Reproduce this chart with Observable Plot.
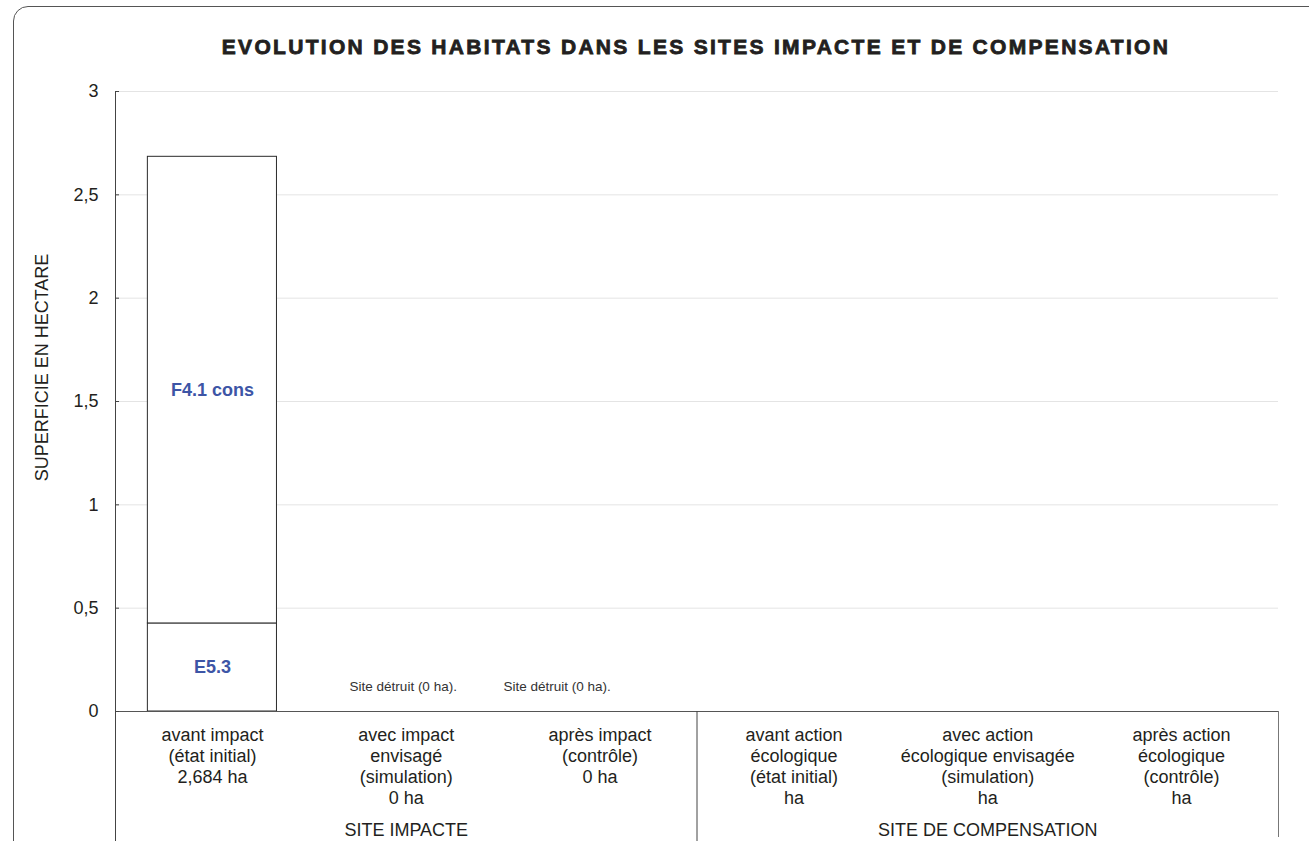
<!DOCTYPE html>
<html><head><meta charset="utf-8">
<script src="https://cdn.jsdelivr.net/npm/d3@7"></script>
<script src="https://cdn.jsdelivr.net/npm/@observablehq/plot@0.6"></script>
<style>
  body { margin: 0; background: #fff; }
  #wrap { position: relative; width: 1309px; height: 841px; overflow: hidden; background: #fff; }
  #frame { position: absolute; left: 13px; top: 6px; width: 1400px; height: 900px; border: 1.2px solid #555; border-radius: 15px; }
  #title { position: absolute; left: 0; top: 35px; width: 1392px; text-align: center; font-family: "Liberation Sans", Arial, sans-serif; font-weight: 700; font-size: 21px; line-height: 24px; letter-spacing: 2.3px; color: #231f20; -webkit-text-stroke: 0.8px #231f20; }
  #chart { position: absolute; left: 0; top: 70px; }
</style>
</head><body>
<div id="wrap">
  <div id="frame"></div>
  <div id="title">EVOLUTION DES HABITATS DANS LES SITES IMPACTE ET DE COMPENSATION</div>
  <div id="chart"></div>
</div>
<script>
const categories = ["avant impact", "avec impact", "après impact", "avant action", "avec action", "après action"];
const tickLabels = [
  "avant impact\n(état initial)\n2,684 ha",
  "avec impact\nenvisagé\n(simulation)\n0 ha",
  "après impact\n(contrôle)\n0 ha",
  "avant action\nécologique\n(état initial)\nha",
  "avec action\nécologique envisagée\n(simulation)\nha",
  "après action\nécologique\n(contrôle)\nha"
];
const habitats = ["E5.3", "F4.1 cons"];
const habitatValues = [0.426, 2.258];
const habitatSite = "avant impact";
const groupLabels = ["SITE IMPACTE", "SITE DE COMPENSATION"];
const groupCenters = ["avec impact", "avec action"];
const noteSites = ["avec impact", "après impact"];
const noteText = "Site détruit (0 ha).";
const yTicks = [0, 0.5, 1, 1.5, 2, 2.5, 3];
const yLabel = "SUPERFICIE EN HECTARE";

const W = 1309, H = 771, ML = 115, MR = 31, MT = 21, MB = 130;
const frameW = W - ML - MR;
const frameH = H - MT - MB;
const step = frameW / categories.length;

const stacked = habitats.map((h, i) => ({site: habitatSite, habitat: h, value: habitatValues[i]}));
let acc = 0;
const labelRows = stacked.map(d => { const mid = acc + d.value / 2; acc += d.value; return {...d, mid}; });

const lineColor = "#444";
const textColor = "#231f20";

const chart = Plot.plot({
  width: W, height: H,
  marginLeft: ML, marginRight: MR, marginTop: MT, marginBottom: MB,
  style: {fontFamily: "'Liberation Sans', Arial, sans-serif", fontSize: "18px", color: textColor, background: "transparent", overflow: "visible"},
  x: {domain: categories, paddingInner: 0.334, paddingOuter: 0.167, round: false},
  y: {domain: [0, 3]},
  marks: [
    Plot.gridY(yTicks, {stroke: "#e4e4e4", strokeOpacity: 1}),
    Plot.barY(stacked, Plot.stackY({x: "site", y: "value", fill: "white", stroke: "#2b2b2b", strokeWidth: 1})),
    Plot.ruleY([0], {stroke: "#555"}),
    Plot.ruleX([categories[0]], {dx: -step / 2, insetBottom: -MB, stroke: lineColor}),
    Plot.ruleX([categories[3]], {dx: -step / 2, insetTop: frameH, insetBottom: -MB, stroke: lineColor}),
    Plot.ruleX([categories[5]], {dx: step / 2, insetTop: frameH, insetBottom: -(MB - 4), stroke: "#777"}),
    Plot.tickY(yTicks, {y: d => d, insetRight: frameW - 4, stroke: lineColor}),
    Plot.axisY({ticks: yTicks, tickSize: 0, tickPadding: 17, tickFormat: d => String(d).replace(".", ","), fontSize: 18, label: null, fill: textColor}),
    Plot.axisX({tickSize: 0, tickPadding: 15, tickFormat: d => tickLabels[categories.indexOf(d)], fontSize: 18, lineHeight: 1.167, lineAnchor: "top", label: null, fill: textColor}),
    Plot.text(labelRows, {x: "site", y: "mid", text: "habitat", fill: "#3d55a6", fontWeight: "bold", fontSize: 18}),
    Plot.text([noteSites[0]], {x: d => d, text: () => noteText, frameAnchor: "bottom", dy: -21, dx: -3, fontSize: 13.5, fill: "#333"}),
    Plot.text([noteSites[1]], {x: d => d, text: () => noteText, frameAnchor: "bottom", dy: -21, dx: -43, fontSize: 13.5, fill: "#333"}),
    Plot.text(groupCenters, {x: d => d, text: (d, i) => groupLabels[i], frameAnchor: "bottom", dy: 124, fontSize: 18, fill: textColor}),
    Plot.text([yLabel], {text: d => d, frameAnchor: "left", textAnchor: "middle", rotate: -90, dx: -73, dy: -34, fontSize: 18, fill: textColor})
  ]
});
document.getElementById("chart").appendChild(chart);
</script>
</body></html>
